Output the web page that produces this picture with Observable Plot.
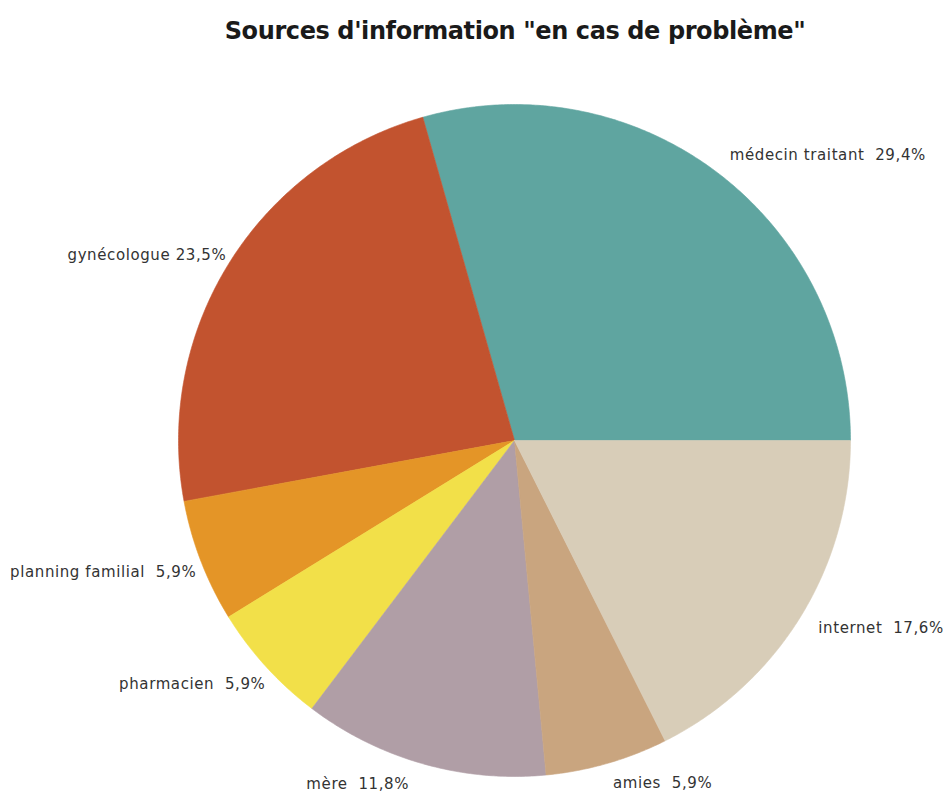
<!DOCTYPE html>
<html>
<head>
<meta charset="utf-8">
<script src="https://cdn.jsdelivr.net/npm/d3@7"></script>
<script src="https://cdn.jsdelivr.net/npm/@observablehq/plot@0.6"></script>
<style>
  html, body { margin: 0; padding: 0; background: #fff; }
  #title { height: 60px; width: 858px; padding-left: 86px; text-align: center; font-family: "DejaVu Sans", sans-serif; font-weight: bold; font-size: 24px; line-height: 62px; color: #1a1a1a; letter-spacing: -0.4px; }
</style>
</head>
<body>
<div id="title">Sources d'information "en cas de problème"</div>
<div id="chart"></div>
<script>
const categories = ["médecin traitant", "gynécologue", "planning familial", "pharmacien", "mère", "amies", "internet"];
const values = [29.4, 23.5, 5.9, 5.9, 11.8, 5.9, 17.6];
const separators = ["  ", " ", "  ", "  ", "  ", "  ", "  "];
const colors = ["#5fa5a0", "#c2532f", "#e49527", "#f2e049", "#b09ea6", "#c9a57f", "#d8cdb8"];

const W = 944, H = 736, R = 336, CX = 514, CY = 380;
const total = d3.sum(values);
const fmt = v => v.toFixed(1).replace(".", ",") + "%";

// slice polygons (counter-clockwise from 3 o'clock), unit radius
const poly = [];
const labels = [];
let a = 0;
categories.forEach((c, i) => {
  const span = values[i] / total * 2 * Math.PI;
  const a0 = a, a1 = a + span;
  poly.push({cat: c, x: 0, y: 0});
  const n = Math.max(2, Math.ceil(span / (Math.PI / 360)));
  for (let k = 0; k <= n; k++) {
    const t = a0 + (a1 - a0) * k / n;
    poly.push({cat: c, x: Math.cos(t), y: Math.sin(t)});
  }
  poly.push({cat: c, x: 0, y: 0});
  const m = (a0 + a1) / 2;
  const rr = 1.0625;
  const cs = Math.cos(m);
  labels.push({cat: c, x: rr * cs, y: rr * Math.sin(m),
    text: (c + separators[i] + fmt(values[i])).replace(/ /g, "\u00a0"),
    side: cs >= 0 ? "right" : (cs < -0.5 ? "left" : "bottomleft")});
  a = a1;
});

const common = {x: "x", y: "y", text: "text", fontSize: 15, fill: "#333"};
const chart = Plot.plot({
  width: W, height: H,
  margin: 0,
  x: {domain: [-CX / R, (W - CX) / R], range: [0, W], axis: null},
  y: {domain: [-(H - CY) / R, CY / R], range: [H, 0], axis: null},
  color: {domain: categories, range: colors},
  style: {fontFamily: "DejaVu Sans, sans-serif", letterSpacing: "0.6px"},
  marks: [
    Plot.line(poly, {x: "x", y: "y", z: "cat", fill: "cat", stroke: "cat", strokeWidth: 0.6, curve: "linear"}),
    Plot.text(labels.filter(d => d.side === "right"), {...common, textAnchor: "start"}),
    Plot.text(labels.filter(d => d.side === "left"), {...common, textAnchor: "end", dx: 15, dy: 3}),
    Plot.text(labels.filter(d => d.side === "bottomleft"), {...common, textAnchor: "end", dx: -8})
  ]
});
document.getElementById("chart").appendChild(chart);
</script>
</body>
</html>
